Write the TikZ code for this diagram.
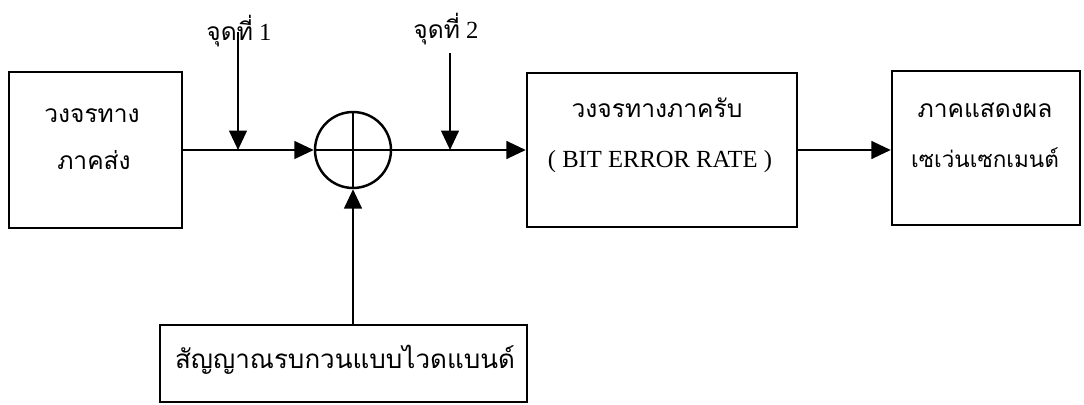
\documentclass[tikz,border=0pt]{standalone}
\usepackage{fontspec}
\setmainfont{Liberation Serif}
\newfontfamily\thaifont[Script=Thai]{Loma}
\usetikzlibrary{arrows.meta,positioning}

\tikzset{
    blockbox/.style={draw, line width=1.4pt, inner sep=0pt},
    boxtext/.style={anchor=base, inner sep=0pt, font=\fontsize{14}{16}\selectfont},
    sig/.style={-{Triangle[length=11pt,width=10pt]}, line width=1.4pt},
}

\begin{document}
\begin{tikzpicture}[x=0.02cm, y=-0.02cm]
    \useasboundingbox (0,0) rectangle (1084,405);

    % Blocks
    \node[blockbox, minimum width=3.46cm, minimum height=3.12cm] (tx) at (95.5,150) {};
    \node[blockbox, minimum width=5.4cm, minimum height=3.08cm] (rx) at (662,150) {};
    \node[blockbox, minimum width=3.76cm, minimum height=3.08cm] (disp) at (986,148) {};
    \node[blockbox, minimum width=7.34cm, minimum height=1.54cm] (noise) at (343.5,363.5) {};
    \node[blockbox, circle, minimum size=1.52cm] (sum) at (353,150) {};
    \draw[line width=1.4pt] (sum.north) -- (sum.south) (sum.west) -- (sum.east);

    % Texts in the blocks
    \node[boxtext] (tx-a) at (92,123) {\thaifont วงจรทาง};
    \node[boxtext] (tx-b) at (94,170) {\thaifont ภาคส่ง};
    \node[boxtext] (rx-a) at (657,118) {\thaifont วงจรทางภาครับ};
    \node[boxtext] (rx-b) at (660,168) {( BIT ERROR RATE )};
    \node[boxtext] (disp-a) at (985,118) {\thaifont ภาคแสดงผล};
    \node[boxtext, font=\fontsize{12.8}{16}\selectfont] (disp-b) at (985,168) {\thaifont เซเว่นเซกเมนต์};
    \node[boxtext, font=\fontsize{14.8}{16}\selectfont] (noise-a) at (345,368) {\thaifont สัญญาณรบกวนแบบไวดแบนด์};

    % Test points
    \coordinate (tp1) at (238,32);
    \coordinate (tp2) at (450,53);
    \node[boxtext] (tp1-lbl) at (239,41) {{\thaifont จุดที่} 1};
    \node[boxtext] (tp2-lbl) at (446,39) {{\thaifont จุดที่} 2};

    % Signal path
    \draw[sig] (tx.east) -- (sum.west);
    \draw[sig] (sum.east) -- (rx.west);
    \draw[sig] (rx.east) -- (rx.east -| disp.west);
    \draw[sig] (sum.south |- noise.north) -- (sum.south);
    \draw[sig] (tp1) -- (tp1 |- tx.east);
    \draw[sig] (tp2) -- (tp2 |- tx.east);
\end{tikzpicture}
\end{document}
